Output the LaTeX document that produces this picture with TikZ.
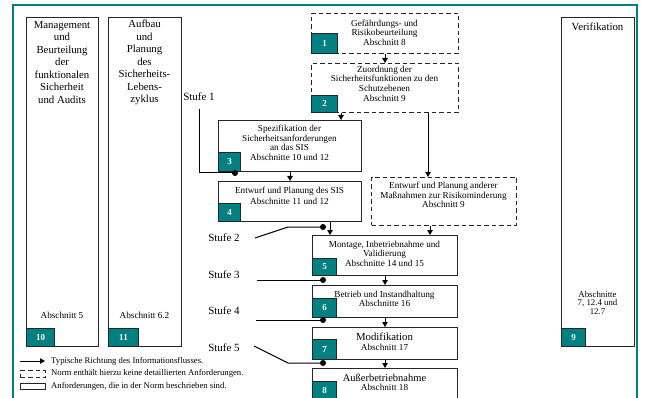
\documentclass[tikz,border=0pt]{standalone}
\usepackage{fontspec}
\setmainfont{Liberation Serif}
\usetikzlibrary{arrows.meta,calc}
\tikzset{
  phase/.style={draw=black!85, line width=1pt, inner sep=0pt, anchor=north west},
  phasedash/.style={phase, dash pattern=on 4.5pt off 3pt},
  nummer/.style={draw=black!85, line width=1pt, fill=teal, text=white, font=\bfseries\fontsize{9}{9}\selectfont, inner sep=0pt, anchor=south west, minimum width=24pt, minimum height=18pt},
  boxtext/.style={align=center, font=\fontsize{9.2}{9.6}\selectfont, inner sep=0pt},
  spalte/.style={align=center, font=\fontsize{10.8}{12.5}\selectfont, inner sep=0pt},
  pfeil/.style={-{Triangle[length=5pt,width=5.5pt]}, line width=1pt},
  stufe/.style={line width=1pt},
  stufetext/.style={font=\fontsize{11}{12}\selectfont, inner sep=0pt},
  rahmen/.style={draw=teal, line width=1.2pt},
  legende/.style={font=\fontsize{8.7}{10}\selectfont, anchor=west, inner sep=0pt}
}
\def\punkt(#1){\fill (#1) circle (3pt);}

\begin{document}
\begin{tikzpicture}[x=1pt, y=-1pt]
		%%%%% START %%%%%
		\useasboundingbox (0,0) rectangle (645,398);
		\draw[rahmen] (13,400) -- (13,5) -- (637,5) -- (637,400);
		
		% Spalten links und rechts
		\node[phase, minimum width=72pt, minimum height=329pt] (mgmt) at (26,17) {};
		\node[spalte] (mgmt-t) at (62,62.5) {Management\\und\\Beurteilung\\der\\funktionalen\\Sicherheit\\und Audits};
		\node[boxtext] (mgmt-a) at (62,315) {Abschnitt 5};
		\node[nummer, minimum width=28pt] (n10) at (mgmt.south west) {10};
		
		\node[phase, minimum width=73pt, minimum height=329pt] (aufbau) at (108,17) {};
		\node[spalte] (aufbau-t) at (144.5,62.5) {Aufbau\\und\\Planung\\des\\Sicherheits-\\Lebens-\\zyklus};
		\node[boxtext] (aufbau-a) at (144.5,315) {Abschnitt 6.2};
		\node[nummer, minimum width=30pt] (n11) at (aufbau.south west) {11};
		
		\node[phase, minimum width=73pt, minimum height=329pt] (verif) at (561,17) {};
		\node[spalte] (verif-t) at (597.5,27) {Verifikation};
		\node[boxtext, font=\fontsize{8.8}{8.8}\selectfont] (verif-a) at (597.5,303) {Abschnitte\\7, 12.4 und\\12.7};
		\node[nummer] (n9) at (verif.south west) {9};
		
		% Phasen
		\node[phasedash, minimum width=147pt, minimum height=40pt] (gef) at (311,13) {};
		\node[boxtext] (gef-t) at (384.5,32.5) {Gefährdungs- und\\Risikobeurteilung\\Abschnitt 8};
		\node[nummer, minimum width=26pt, minimum height=20pt] (n1) at (gef.south west) {1};
		
		\node[phasedash, minimum width=147pt, minimum height=49pt] (zuo) at (311,63) {};
		\node[boxtext] (zuo-t) at (384.5,83.5) {Zuordnung der\\Sicherheitsfunktionen zu den\\Schutzebenen\\Abschnitt 9};
		\node[nummer, minimum width=26pt, minimum height=17pt] (n2) at (zuo.south west) {2};
		
		\node[phase, minimum width=143pt, minimum height=51pt] (spez) at (218,120) {};
		\node[boxtext] (spez-t) at (289.5,143) {Spezifikation der\\Sicherheitsanforderungen\\an das SIS\\Abschnitte 10 und 12};
		\node[nummer, minimum width=22pt, minimum height=19pt] (n3) at (spez.south west) {3};
		
		\node[phase, minimum width=143pt, minimum height=40pt] (entw) at (218,181) {};
		\node[boxtext, font=\fontsize{9.2}{11}\selectfont] (entw-t) at (289.5,195.5) {Entwurf und Planung des SIS\\Abschnitte 11 und 12};
		\node[nummer, minimum width=22pt] (n4) at (entw.south west) {4};
		
		\node[phasedash, minimum width=145pt, minimum height=48pt] (andere) at (371,177) {};
		\node[boxtext] (andere-t) at (443.5,195) {Entwurf und Planung anderer\\Maßnahmen zur Risikominderung\\Abschnitt 9};
		
		\node[phase, minimum width=145pt, minimum height=40pt] (mont) at (312,235) {};
		\node[boxtext] (mont-t) at (384.5,253.5) {Montage, Inbetriebnahme und\\Validierung\\Abschnitte 14 und 15};
		\node[nummer, minimum height=17pt] (n5) at (mont.south west) {5};
		
		\node[phase, minimum width=145pt, minimum height=32pt] (betr) at (312,285) {};
		\node[boxtext] (betr-t) at (384.5,299) {Betrieb und Instandhaltung\\Abschnitte 16};
		\node[nummer, minimum height=19pt] (n6) at (betr.south west) {6};
		
		\node[phase, minimum width=145pt, minimum height=32pt] (modi) at (312,327) {};
		\node[boxtext] (modi-t) at (384.5,342) {{\fontsize{10.8}{10.8}\selectfont Modifikation}\\Abschnitt 17};
		\node[nummer, minimum height=20pt] (n7) at (modi.south west) {7};
		
		\node[phase, minimum width=145pt, minimum height=40pt] (ausser) at (312,368) {};
		\node[boxtext] (ausser-t) at (384.5,382.5) {{\fontsize{10.5}{10.5}\selectfont Außerbetriebnahme}\\Abschnitt 18};
		\node[nummer] (n8) at (312,400) {8};
		
		% Informationsfluss
		\draw[pfeil] (gef.south) -- (zuo.north);
		\draw[pfeil] ($(zuo.south west)+(30,0)$) coordinate (a3) -- (a3 |- spez.north);
		\draw[pfeil] ($(zuo.south west)+(117,0)$) coordinate (ax) -- (ax |- andere.north);
		\draw[pfeil] (spez.south) -- (entw.north);
		\draw[pfeil] ($(entw.south west)+(112,0)$) coordinate (a5) -- (a5 |- mont.north);
		\draw[pfeil] ($(andere.south west)+(59,0)$) coordinate (b5) -- (b5 |- mont.north);
		\draw[pfeil] (mont.south) -- (betr.north);
		\draw[pfeil] (betr.south) -- (modi.north);
		\draw[pfeil] (modi.south) -- (ausser.north);
		
		% Stufen
		\node[stufetext] (s1) at (199,97) {Stufe 1};
		\node[stufetext] (s2) at (224,238) {Stufe 2};
		\node[stufetext] (s3) at (224,275) {Stufe 3};
		\node[stufetext] (s4) at (224,311) {Stufe 4};
		\node[stufetext] (s5) at (224,348) {Stufe 5};
		
		\coordinate (d1) at (235,173);
		\coordinate (d2) at (323,227);
		\coordinate (d3) at (323,280);
		\coordinate (d4) at (323,320);
		\coordinate (d5) at (323,363);
		
		\draw[stufe] ([yshift=-8pt]s1.south) |- (d1);
		\draw[stufe] ($(s2.east)+(15,0)$) -- (288,227) -- (d2);
		\draw[stufe] ($(d3 -| s3.east)+(17,0)$) -- (d3);
		\draw[stufe] ($(d4 -| s4.east)+(16,0)$) -- (d4);
		\draw[stufe] ($(s5.east)+(14,-2)$) -- (288,363) -- (d5);
		\punkt(d1) \punkt(d2) \punkt(d3) \punkt(d4) \punkt(d5)
		
		% Legende
		\coordinate (l1a) at (20,361);
		\coordinate (l1b) at (45,361);
		\draw[pfeil] (l1a) -- (l1b);
		\node[legende] (leg1) at (51,361) {Typische Richtung des Informationsflusses.};
		\node[phasedash, minimum width=25pt, minimum height=7pt] (l2) at (20,370) {};
		\node[legende] (leg2) at (51,373) {Norm enthält hierzu keine detaillierten Anforderungen.};
		\node[phase, minimum width=25pt, minimum height=6pt] (l3) at (20,383) {};
		\node[legende] (leg3) at (51,386) {Anforderungen, die in der Norm beschrieben sind.};
		
		%%%%% END %%%%%
\end{tikzpicture}
\end{document}
